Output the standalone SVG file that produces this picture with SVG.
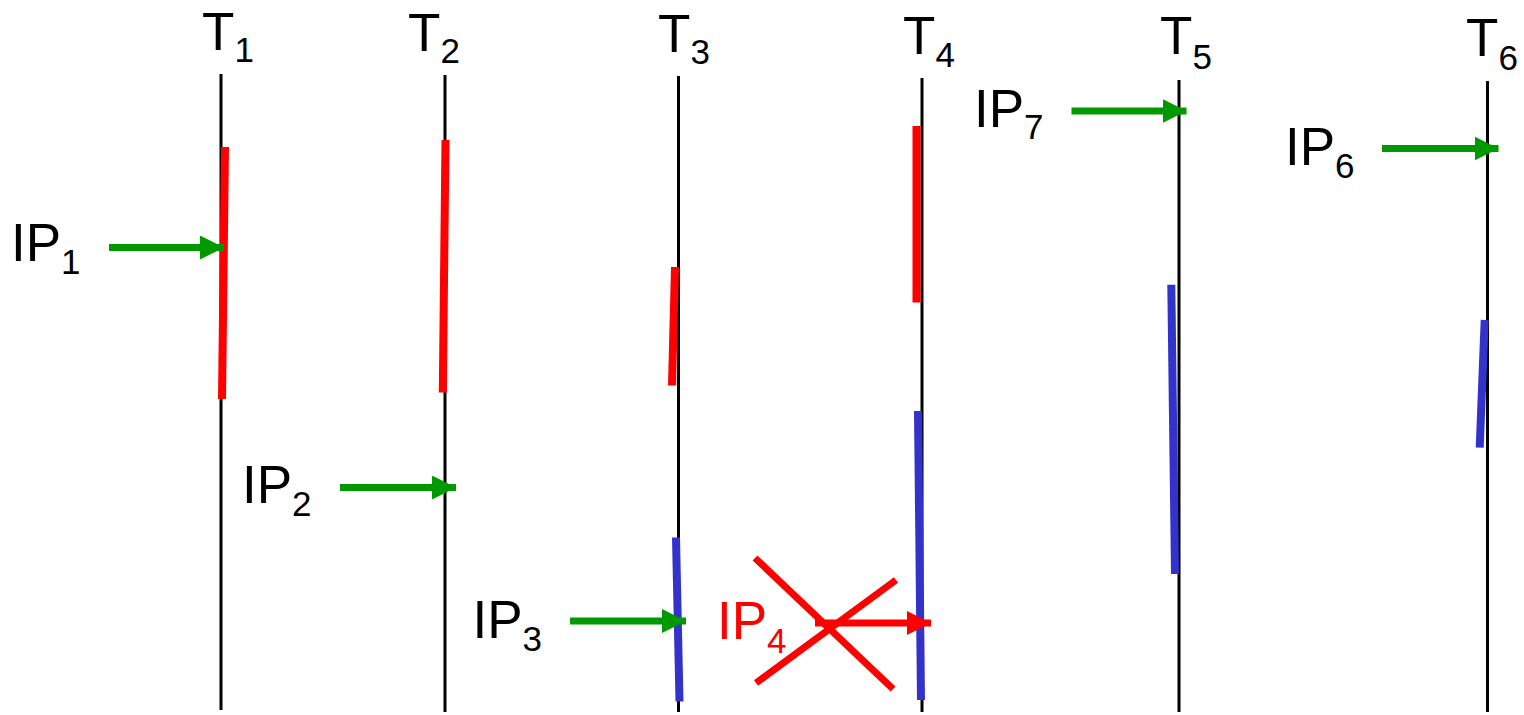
<svg xmlns="http://www.w3.org/2000/svg" width="1524" height="715" viewBox="0 0 1524 715">
<style>
text{font-family:"Liberation Sans","Open Sans","DejaVu Sans",sans-serif;fill:#000}
.lbl{font-size:53px}
.sub{font-size:35px}
.tl{stroke:#000;stroke-width:3;fill:none}
.red{stroke:#FF0000;stroke-width:8;fill:none}
.blue{stroke:#3333CC;stroke-width:8;fill:none}
.ga{stroke:#009900;stroke-width:7;fill:none;marker-end:url(#ah-g)}
.ra{stroke:#FF0000;stroke-width:7;fill:none;marker-end:url(#ah-r)}
.x{stroke:#FF0000;stroke-width:7;fill:none}
</style>
<defs>
<marker id="ah-g" markerUnits="userSpaceOnUse" markerWidth="24" markerHeight="24" refX="24" refY="12" orient="auto"><path d="M0,0 L24,12 L0,24 z" fill="#009900"/></marker>
<marker id="ah-r" markerUnits="userSpaceOnUse" markerWidth="24" markerHeight="24" refX="24" refY="12" orient="auto"><path d="M0,0 L24,12 L0,24 z" fill="#FF0000"/></marker>
</defs>
<rect width="1524" height="715" fill="#fff"/>

<g id="T1">
<text class="lbl" x="202" y="50">T<tspan class="sub" dy="12">1</tspan></text>
<line class="tl" x1="221" y1="74" x2="221" y2="710"/>
<line class="red" x1="225" y1="147" x2="222" y2="399"/>
</g>
<g id="T2">
<text class="lbl" x="408" y="51">T<tspan class="sub" dy="12">2</tspan></text>
<line class="tl" x1="445" y1="75" x2="445" y2="712"/>
<line class="red" x1="445.5" y1="140" x2="442.8" y2="392.5"/>
</g>
<g id="T3">
<text class="lbl" x="658" y="52">T<tspan class="sub" dy="12">3</tspan></text>
<line class="tl" x1="678.5" y1="76" x2="678.5" y2="712"/>
<line class="red" x1="675" y1="267" x2="672" y2="385.5"/>
<line class="blue" x1="676" y1="537.5" x2="679.5" y2="701.5"/>
</g>
<g id="T4">
<text class="lbl" x="903" y="53.5">T<tspan class="sub" dy="13">4</tspan></text>
<line class="tl" x1="922" y1="78" x2="922" y2="712"/>
<line class="red" x1="916.5" y1="126" x2="916.5" y2="302.5"/>
<line class="blue" x1="918" y1="411" x2="921" y2="700"/>
</g>
<g id="T5">
<text class="lbl" x="1160" y="54">T<tspan class="sub" dy="15">5</tspan></text>
<line class="tl" x1="1179" y1="80" x2="1179" y2="712"/>
<line class="blue" x1="1171.3" y1="284.7" x2="1175" y2="574"/>
</g>
<g id="T6">
<text class="lbl" x="1466" y="56">T<tspan class="sub" dy="14">6</tspan></text>
<line class="tl" x1="1487.5" y1="81" x2="1487.5" y2="712"/>
<line class="blue" x1="1484.7" y1="320" x2="1479.7" y2="447.7"/>
</g>

<g id="IP1"><text class="lbl" x="11" y="261">IP<tspan class="sub" dy="13">1</tspan></text></g>
<g id="IP2"><text class="lbl" x="242" y="503">IP<tspan class="sub" dy="13">2</tspan></text></g>
<g id="IP3"><text class="lbl" x="472.5" y="637.5">IP<tspan class="sub" dy="13">3</tspan></text></g>
<g id="IP4"><text class="lbl" x="717" y="638.5" style="fill:#FF0000">IP<tspan class="sub" dy="14" style="fill:#FF0000">4</tspan></text></g>
<g id="IP7"><text class="lbl" x="974" y="127">IP<tspan class="sub" dy="12">7</tspan></text></g>
<g id="IP6"><text class="lbl" x="1285" y="165">IP<tspan class="sub" dy="13">6</tspan></text></g>

<g id="connectors">
<line class="ga" x1="109" y1="247.5" x2="224" y2="247.5"/>
<line class="ga" x1="340" y1="487.5" x2="456" y2="487.5"/>
<line class="ga" x1="570" y1="621" x2="686" y2="621"/>
<line class="ga" x1="1071.5" y1="111" x2="1186.5" y2="111"/>
<line class="ga" x1="1382" y1="148.5" x2="1498.5" y2="148.5"/>
<line class="ra" x1="815" y1="623" x2="931" y2="623"/>
<line class="x" x1="755" y1="558" x2="893" y2="689"/>
<line class="x" x1="756" y1="683" x2="896" y2="580"/>
</g>
</svg>
